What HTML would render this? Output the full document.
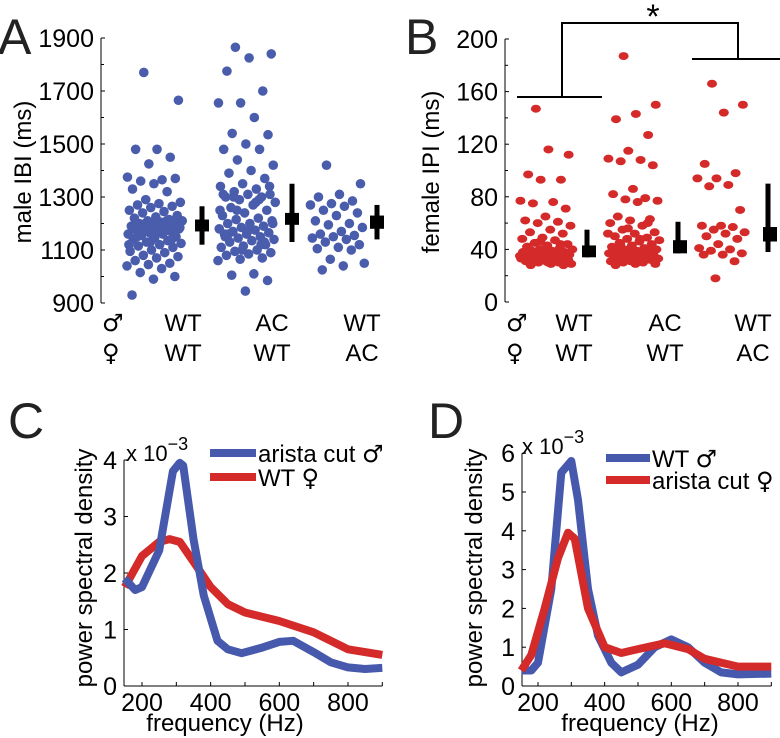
<!DOCTYPE html>
<html><head><meta charset="utf-8"><style>
body{margin:0;background:#fff}
svg{display:block;font-family:"Liberation Sans","DejaVu Sans",sans-serif}
.sym{font-family:"DejaVu Sans",sans-serif}
</style></head><body>
<svg id="fig" width="780" height="738" viewBox="0 0 780 738">
<g>
<text x="-2" y="54" font-size="50" fill="#222">A</text>
<line x1="101" y1="38" x2="101" y2="303" stroke="#000" stroke-width="1"/>
<g id="aTicks"></g><g id="aDots"></g><g id="aErr"></g>
<text transform="translate(31,172) rotate(-90)" text-anchor="middle" font-size="24">male IBI (ms)</text>
<text x="102" y="331" font-size="24" class="sym">♂</text>
<text x="102" y="361" font-size="24" class="sym">♀</text>
<g font-size="24" text-anchor="middle">
<text x="183" y="331">WT</text><text x="183" y="361">WT</text>
<text x="272" y="331">AC</text><text x="272" y="361">WT</text>
<text x="362" y="331">WT</text><text x="362" y="361">AC</text></g>
</g>
<g>
<text x="405" y="54" font-size="50" fill="#222">B</text>
<line x1="505" y1="39" x2="505" y2="302" stroke="#000" stroke-width="1"/>
<g id="bTicks"></g><g id="bDots"></g><g id="bErr"></g>
<text transform="translate(439,172) rotate(-90)" text-anchor="middle" font-size="24">female IPI (ms)</text>
<path d="M517 97H602M562 97V23H738V59M692 59H780" fill="none" stroke="#000" stroke-width="2"/>
<text x="653" y="28" font-size="34" text-anchor="middle">*</text>
<text x="506" y="331" font-size="24" class="sym">♂</text>
<text x="506" y="361" font-size="24" class="sym">♀</text>
<g font-size="24" text-anchor="middle">
<text x="574" y="331">WT</text><text x="574" y="361">WT</text>
<text x="665" y="331">AC</text><text x="665" y="361">WT</text>
<text x="753" y="331">WT</text><text x="753" y="361">AC</text></g>
</g>
<g>
<text x="8" y="438" font-size="50" fill="#222">C</text>
<g id="cAxes"></g><g id="cLines"></g>
<text transform="translate(92,568) rotate(-90)" text-anchor="middle" font-size="24">power spectral density</text>
<text x="225" y="731" text-anchor="middle" font-size="24">frequency (Hz)</text>
<text x="126" y="461" font-size="22">x 10<tspan dy="-11" font-size="18">−3</tspan></text>
<line x1="210" y1="453" x2="256" y2="453" stroke="#4659ad" stroke-width="8"/>
<text x="258" y="462" font-size="24">arista cut <tspan class="sym">♂</tspan></text>
<line x1="210" y1="477" x2="256" y2="477" stroke="#d42a2a" stroke-width="8"/>
<text x="258" y="486" font-size="24">WT <tspan class="sym">♀</tspan></text>
</g>
<g>
<text x="428" y="438" font-size="50" fill="#222">D</text>
<g id="dAxes"></g><g id="dLines"></g>
<text transform="translate(482,568) rotate(-90)" text-anchor="middle" font-size="24">power spectral density</text>
<text x="640" y="731" text-anchor="middle" font-size="24">frequency (Hz)</text>
<text x="522" y="454" font-size="22">x 10<tspan dy="-11" font-size="18">−3</tspan></text>
<line x1="606" y1="458" x2="650" y2="458" stroke="#4659ad" stroke-width="8"/>
<text x="652" y="467" font-size="24">WT <tspan class="sym">♂</tspan></text>
<line x1="606" y1="480" x2="650" y2="480" stroke="#d42a2a" stroke-width="8"/>
<text x="652" y="489" font-size="24">arista cut <tspan class="sym">♀</tspan></text>
</g>
</svg>
<script>
const NS="http://www.w3.org/2000/svg";
const aTickVals=[900,1100,1300,1500,1700,1900];
const aMinorVals=[1000,1200,1400,1600,1800];
const aWTWT=[1770,1665,1480,1480,1450,1425,1375,1365,1360,1370,1350,1330,1320,1290,1280,1275,1270,1265,1260,1250,1245,1240,1230,1225,1220,1215,1210,1210,1205,1200,1200,1195,1190,1190,1185,1180,1180,1175,1170,1165,1160,1160,1155,1150,1145,1140,1135,1130,1125,1120,1115,1110,1100,1095,1090,1080,1075,1070,1060,1050,1045,1040,1030,1015,1000,990,930,1210,1200,1185,1170,1150,1140,1130,1120];
const aACWT=[1865,1840,1825,1775,1700,1655,1655,1600,1540,1535,1500,1480,1480,1440,1420,1400,1390,1370,1350,1340,1330,1320,1310,1310,1300,1300,1290,1280,1270,1260,1250,1240,1230,1220,1215,1210,1200,1200,1190,1185,1180,1175,1170,1165,1160,1160,1150,1145,1140,1135,1130,1120,1115,1110,1100,1095,1090,1085,1080,1070,1065,1060,1010,1005,985,945,1310,1290,1250,1200,1180,1160,1130,1100,1250,1280,1300,1340,1170,1150,1120];
const aWTAC=[1420,1350,1310,1300,1285,1275,1270,1265,1250,1240,1230,1210,1200,1195,1185,1170,1160,1155,1150,1145,1140,1130,1120,1110,1105,1100,1065,1050,1040,1025];
const aBoxLo=[1170,1195,1180];const aBoxHi=[1215,1240,1230];
const aLo=[1120,1130,1140];const aHi=[1265,1350,1270];

const bTickVals=[0,40,80,120,160,200];
const bMinorVals=[20,60,100,140,180];
const bWTWT=[147,112,116,97,93,93,77,76,75,71,65,62,61,60,58,55,53,52,49,48,47,45,44,43,42,41,40,40,39,39,38,38,37,37,36,36,35,35,34,34,33,33,32,32,31,31,30,30,29,29,28,28,40,38,36,34,32,30,42,44,46,35,33];
const bACWT=[187,150,143,139,127,115,109,108,107,104,86,82,79,78,77,76,65,63,62,60,58,55,53,52,50,49,48,47,46,45,44,43,42,41,40,40,39,39,38,38,37,37,36,36,35,35,34,34,33,33,32,32,31,31,30,30,29,29,28,60,56,52,48,44,40,36,32];
const bWTAC=[166,150,144,105,98,94,94,89,88,70,58,58,57,55,53,52,50,48,44,41,40,39,37,36,36,31,18];
const bBoxLo=[34,37,46];const bBoxHi=[43,47,57];const bLo=[34,37,38];const bHi=[55,61,90];

const freqC=[150,180,200,250,290,310,320,350,380,420,450,490,550,600,640,700,750,800,850,900];
const cBlue=[1.9,1.7,1.75,2.4,3.8,3.95,3.9,2.6,1.6,0.8,0.65,0.58,0.68,0.78,0.8,0.6,0.42,0.33,0.3,0.32];
const freqCr=[150,200,250,280,310,350,400,450,500,600,700,800,900];
const cRed=[1.75,2.3,2.55,2.6,2.55,2.2,1.75,1.45,1.3,1.15,0.95,0.65,0.55];
const freqD=[150,180,200,240,270,300,320,350,380,420,450,500,550,600,650,700,750,800,900];
const dBlue=[0.4,0.4,0.6,2.5,5.5,5.8,4.8,2.5,1.3,0.6,0.35,0.55,1.0,1.2,1.0,0.6,0.35,0.3,0.32];
const freqDr=[150,180,220,260,290,310,350,400,450,500,580,650,700,800,900];
const dRed=[0.4,0.8,2.0,3.3,3.95,3.8,2.0,1.0,0.85,0.95,1.1,0.95,0.7,0.5,0.5];
const cTicks=[0,1,2,3,4];const dTicks=[0,1,2,3,4,5,6];const xTicks=[200,400,600,800];

function mk(tag,attrs,parent){const e=document.createElementNS(NS,tag);for(const k in attrs)e.setAttribute(k,attrs[k]);parent.appendChild(e);return e;}
const g=id=>document.getElementById(id);
const yA=v=>303-(v-900)*0.265;
const yB=v=>302-v*1.315;
function jit(i){return (i*0.6180339+0.3)%1;}

aTickVals.forEach(v=>{
 const t=mk('text',{x:94,y:yA(v)+9,'text-anchor':'end','font-size':25},g('aTicks'));t.textContent=v;
 
 
 const l=mk('line',{x1:101,x2:105,y1:yA(v),y2:yA(v),stroke:'#000'},g('aTicks'));
 
 
});
aMinorVals.forEach(v=>{const l=mk('line',{x1:101,x2:104,y1:yA(v),y2:yA(v),stroke:'#000'},g('aTicks'));
 
 });
[[aWTWT,127,56],[aACWT,218,58],[aWTAC,310,55]].forEach(([arr,x0,w])=>{
 arr.forEach((v,i)=>{const c=mk('circle',{cx:x0+w*jit(i),cy:yA(v),r:4.8,fill:'#4a5dac'},g('aDots'));
  
  });
});
[202,292,377].forEach((x,i)=>{
 const l=mk('line',{x1:x,x2:x,y1:yA(aLo[i]),y2:yA(aHi[i]),stroke:'#000','stroke-width':5},g('aErr'));
 
 
 const r=mk('rect',{x:x-7,y:yA(aBoxHi[i]),width:14,height:yA(aBoxLo[i])-yA(aBoxHi[i]),fill:'#000'},g('aErr'));
 
 
});
bTickVals.forEach(v=>{
 const t=mk('text',{x:498,y:yB(v)+9,'text-anchor':'end','font-size':25},g('bTicks'));t.textContent=v;
 
 
 const l=mk('line',{x1:505,x2:509,y1:yB(v),y2:yB(v),stroke:'#000'},g('bTicks'));
 
 
});
bMinorVals.forEach(v=>{const l=mk('line',{x1:505,x2:508,y1:yB(v),y2:yB(v),stroke:'#000'},g('bTicks'));
 
 });
[[bWTWT,520,53],[bACWT,608,52],[bWTAC,697,50]].forEach(([arr,x0,w])=>{
 arr.forEach((v,i)=>{const c=mk('ellipse',{cx:x0+w*jit(i),cy:yB(v),rx:5,ry:4,fill:'#d42a2a'},g('bDots'));
  
  });
});
[589,680,770].forEach((x,i)=>{
 const l=mk('line',{x1:x-2,x2:x-2,y1:yB(bLo[i]),y2:yB(bHi[i]),stroke:'#000','stroke-width':5},g('bErr'));
 
 
 const r=mk('rect',{x:x-7,y:yB(bBoxHi[i]),width:14,height:yB(bBoxLo[i])-yB(bBoxHi[i]),fill:'#000'},g('bErr'));
 
 
});
function linePanel(axesId,linesId,ax0,x200,pxHz,y0,pxUnit,yt,series,pname){
 const X=f=>x200+(f-200)*pxHz, Y=v=>y0-v*pxUnit;
 const A=g(axesId);
 const ya=mk('line',{x1:ax0,x2:ax0,y1:Y(yt[yt.length-1]),y2:y0,stroke:'#000'},A);
 
 
 const xa=mk('line',{x1:ax0,x2:X(900),y1:y0,y2:y0,stroke:'#000'},A);
 
 
 yt.forEach(v=>{const l=mk('line',{x1:ax0,x2:ax0+4,y1:Y(v),y2:Y(v),stroke:'#000'},A);
  
  
  const t=mk('text',{x:ax0-7,y:Y(v)+9,'text-anchor':'end','font-size':25},A);t.textContent=v;
  
  
 });
 [300,500,700,900].concat(xTicks).forEach(f=>{const l=mk('line',{x1:X(f),x2:X(f),y1:y0,y2:y0-4,stroke:'#000'},A);
  
  });
 xTicks.forEach(f=>{const t=mk('text',{x:X(f),y:y0+25,'text-anchor':'middle','font-size':25},A);t.textContent=f;
  
  });
 series.forEach(([fx,vals,col,nm])=>{
  const d=fx.map((f,i)=>(i?'L':'M')+X(f).toFixed(1)+' '+Y(vals[i]).toFixed(1)).join('');
  const p=mk('path',{d:d,fill:'none',stroke:col,'stroke-width':8,'stroke-linejoin':'round'},g(linesId));
  
  
 });
}
linePanel('cAxes','cLines',124,142,0.3433,686,56.5,cTicks,[[freqCr,cRed,'#d42a2a','wt-female-line'],[freqC,cBlue,'#4659ad','arista-cut-male-line']],'panel-c');
linePanel('dAxes','dLines',522,538,0.3333,686,38.8,dTicks,[[freqD,dBlue,'#4659ad','wt-male-line'],[freqDr,dRed,'#d42a2a','arista-cut-female-line']],'panel-d');
</script>
</body></html>
